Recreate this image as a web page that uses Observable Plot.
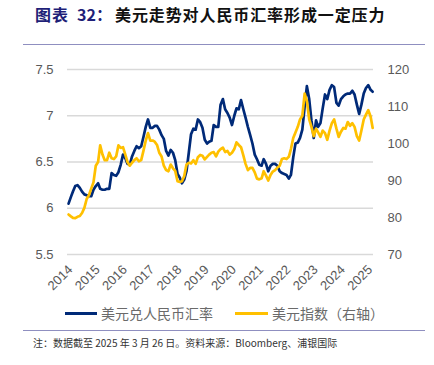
<!DOCTYPE html>
<html><head><meta charset="utf-8">
<script src="https://cdn.jsdelivr.net/npm/d3@7"></script>
<script src="https://cdn.jsdelivr.net/npm/@observablehq/plot@0.6"></script>
<style>
body{margin:0;background:#fff;font-family:"Noto Sans CJK SC","Noto Sans",sans-serif;}
#wrap{position:relative;width:434px;height:365px;overflow:hidden;background:#fff;}
.tt{position:absolute;top:3px;font-size:16px;font-weight:bold;white-space:nowrap;line-height:22px;}
.num{color:#1f1f78;}
.rule{position:absolute;left:23px;width:402px;height:0;border-top:1.5px solid #8f8fc0;}
#chart{position:absolute;left:0;top:45px;}
.sw{position:absolute;height:3px;}
.lt{position:absolute;font-size:14px;color:#6a6a6a;white-space:nowrap;line-height:16px;}
#note{position:absolute;left:33px;top:336px;font-size:10px;color:#333;white-space:nowrap;line-height:14px;}
</style></head>
<body>
<div id="wrap">
  <div class="tt num" style="left:35px;letter-spacing:1px">图表</div>
  <div class="tt num" style="left:77px">32：</div>
  <div class="tt" style="left:115px;color:#111;letter-spacing:0.9px">美元走势对人民币汇率形成一定压力</div>
  <div class="rule" style="top:44px"></div>
  <div id="chart"></div>
  <div class="sw" style="left:65px;width:32px;top:312px;background:#002a78"></div>
  <div class="lt" style="left:101px;top:305px">美元兑人民币汇率</div>
  <div class="sw" style="left:235px;width:33px;top:312px;background:#ffc000"></div>
  <div class="lt" style="left:272px;top:305px">美元指数（右轴）</div>
  <div class="rule" style="top:330px"></div>
  <div id="note">注：数据截至 2025 年 3 月 26 日。资料来源：Bloomberg、浦银国际</div>
</div>
<script>
// USD/CNY, monthly (Jan 2014 – Mar 2025)
const usdcny = [
  6.05,6.12,6.18,6.24,6.25,6.22,6.18,6.15,6.14,6.13,6.13,6.20,
  6.24,6.27,6.21,6.20,6.20,6.21,6.21,6.38,6.36,6.35,6.39,6.47,
  6.58,6.54,6.48,6.47,6.56,6.62,6.67,6.65,6.67,6.77,6.88,6.96,
  6.87,6.87,6.89,6.89,6.85,6.79,6.75,6.62,6.57,6.63,6.60,6.52,
  6.37,6.33,6.27,6.31,6.40,6.60,6.80,6.86,6.85,6.96,6.93,6.87,
  6.74,6.70,6.72,6.73,6.90,6.88,6.88,7.12,7.18,7.07,7.03,6.98,
  6.90,7.00,7.08,7.07,7.17,7.07,6.98,6.88,6.79,6.70,6.58,6.53,
  6.47,6.46,6.53,6.48,6.40,6.46,6.48,6.48,6.46,6.40,6.38,6.37,
  6.36,6.32,6.36,6.55,6.70,6.71,6.76,6.85,7.10,7.32,7.18,6.95,
  6.76,6.95,6.88,6.92,7.08,7.23,7.18,7.28,7.33,7.31,7.14,7.11,
  7.18,7.21,7.23,7.24,7.24,7.27,7.23,7.12,7.02,7.12,7.24,7.30,
  7.33,7.28,7.26
];
// US dollar index (right axis), monthly
const dxy = [
  80.8,80.3,79.9,79.8,80.2,80.4,81.2,82.6,85.0,86.0,87.8,89.5,
  94.0,95.0,99.5,97.0,95.5,95.5,97.5,96.0,95.8,96.5,99.5,98.8,
  99.0,97.0,95.0,94.0,94.8,95.5,96.0,95.2,95.5,98.0,100.8,102.8,
  100.8,100.8,100.5,99.6,97.5,96.5,94.0,92.8,92.5,94.3,93.3,92.6,
  89.8,89.6,89.8,91.2,94.3,94.8,94.6,95.5,94.5,96.3,96.9,96.7,
  95.7,96.4,97.0,97.5,97.7,96.5,97.8,98.5,98.9,97.7,98.0,97.0,
  97.5,98.5,100.3,99.6,99.0,96.8,94.5,92.8,93.4,93.4,92.2,90.5,
  90.3,90.6,92.5,91.3,90.0,91.5,92.4,92.8,93.5,94.0,95.8,96.0,
  95.8,96.4,98.5,101.5,103.0,104.5,106.5,107.5,113.5,111.5,106.5,104.5,
  102.0,104.0,103.0,101.8,103.5,102.8,101.0,103.5,105.5,106.5,104.0,101.8,
  103.2,104.2,104.0,105.8,104.8,105.5,104.5,102.0,100.8,103.5,106.5,107.8,
  109.0,107.3,104.2
];
const leftTicks = [5.5, 6, 6.5, 7, 7.5];
const rightTicks = [70, 80, 90, 100, 110, 120];
const yearTicks = d3.range(2014, 2026);

const months = d3.utcMonth.range(new Date(Date.UTC(2014,0,1)), new Date(Date.UTC(2025,3,1)))
  .map(d => d3.utcDay.offset(d, 14));
const cnyData = usdcny.map((v, i) => ({date: months[i], v}));
const dxyData = dxy.map((v, i) => ({date: months[i], v}));
const toLeft = r => 5.5 + (r - 70) / 25;
const toRight = l => Math.round(70 + (l - 5.5) * 25);

const chart = Plot.plot({
  width: 434, height: 255,
  marginTop: 24, marginBottom: 46, marginLeft: 67, marginRight: 61,
  style: {fontFamily: "'Liberation Sans', Arial, sans-serif", fontSize: "13px", color: "#595959", background: "transparent", overflow: "visible"},
  x: {type: "utc", domain: [new Date(Date.UTC(2014,0,1)), new Date(Date.UTC(2025,2,26))]},
  y: {domain: [5.5, 7.5]},
  marks: [
    Plot.gridY(leftTicks, {stroke: "#d9d9d9", strokeOpacity: 1, strokeWidth: 1.3}),
    Plot.axisY({ticks: leftTicks, tickSize: 0, tickPadding: 14, tickFormat: d => String(d), label: null, fontSize: 13}),
    Plot.axisY({anchor: "right", ticks: rightTicks.map(toLeft), tickSize: 0, tickPadding: 14, tickFormat: toRight, label: null, textAnchor: "start", fontSize: 13}),
    Plot.axisX({ticks: yearTicks.map(y => new Date(Date.UTC(y,0,1))), tickFormat: d3.utcFormat("%Y"), tickRotate: -45, tickSize: 0, tickPadding: 13, dx: 3, label: null, fontSize: 13}),
    Plot.line(cnyData, {x: "date", y: "v", stroke: "#002a78", strokeWidth: 2.7, curve: "linear"}),
    Plot.line(dxyData, {x: "date", y: d => toLeft(d.v), stroke: "#ffc000", strokeWidth: 2.7, curve: "linear"})
  ]
});
document.getElementById("chart").appendChild(chart);
</script>
</body></html>
